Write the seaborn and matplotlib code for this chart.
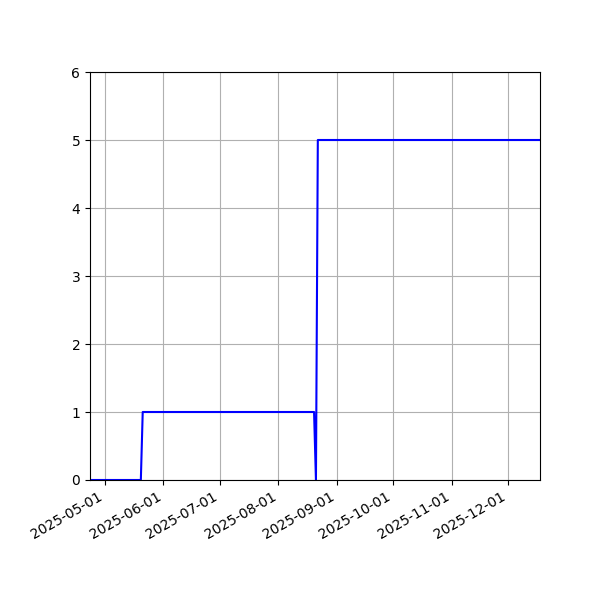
import matplotlib
matplotlib.use("Agg")
import matplotlib.pyplot as plt
import matplotlib.dates as mdates
import seaborn as sns
import pandas as pd

dates = ["2025-04-23", "2025-05-20", "2025-05-21", "2025-08-20", "2025-08-21", "2025-08-22", "2025-12-18"]
values = [0, 0, 1, 1, 0, 5, 5]

df = pd.DataFrame({"date": pd.to_datetime(dates), "value": values})

fig, ax = plt.subplots(figsize=(6, 6), dpi=100)
sns.lineplot(data=df, x="date", y="value", color="blue", linewidth=1.5, ax=ax, sort=False)
ax.set_xlim(df["date"].min(), df["date"].max())
ax.set_ylim(0, 6)
ax.grid(True, color="#b0b0b0", linewidth=0.8)
ax.set_axisbelow(True)
ax.xaxis.set_major_locator(mdates.MonthLocator())
ax.xaxis.set_major_formatter(mdates.DateFormatter("%Y-%m-%d"))
ax.set_xlabel("")
ax.set_ylabel("")
plt.setp(ax.get_xticklabels(), rotation=30, ha="right")
fig.subplots_adjust(left=0.15, right=0.9, top=0.88, bottom=0.2)
fig.savefig("out.png", dpi=100)
